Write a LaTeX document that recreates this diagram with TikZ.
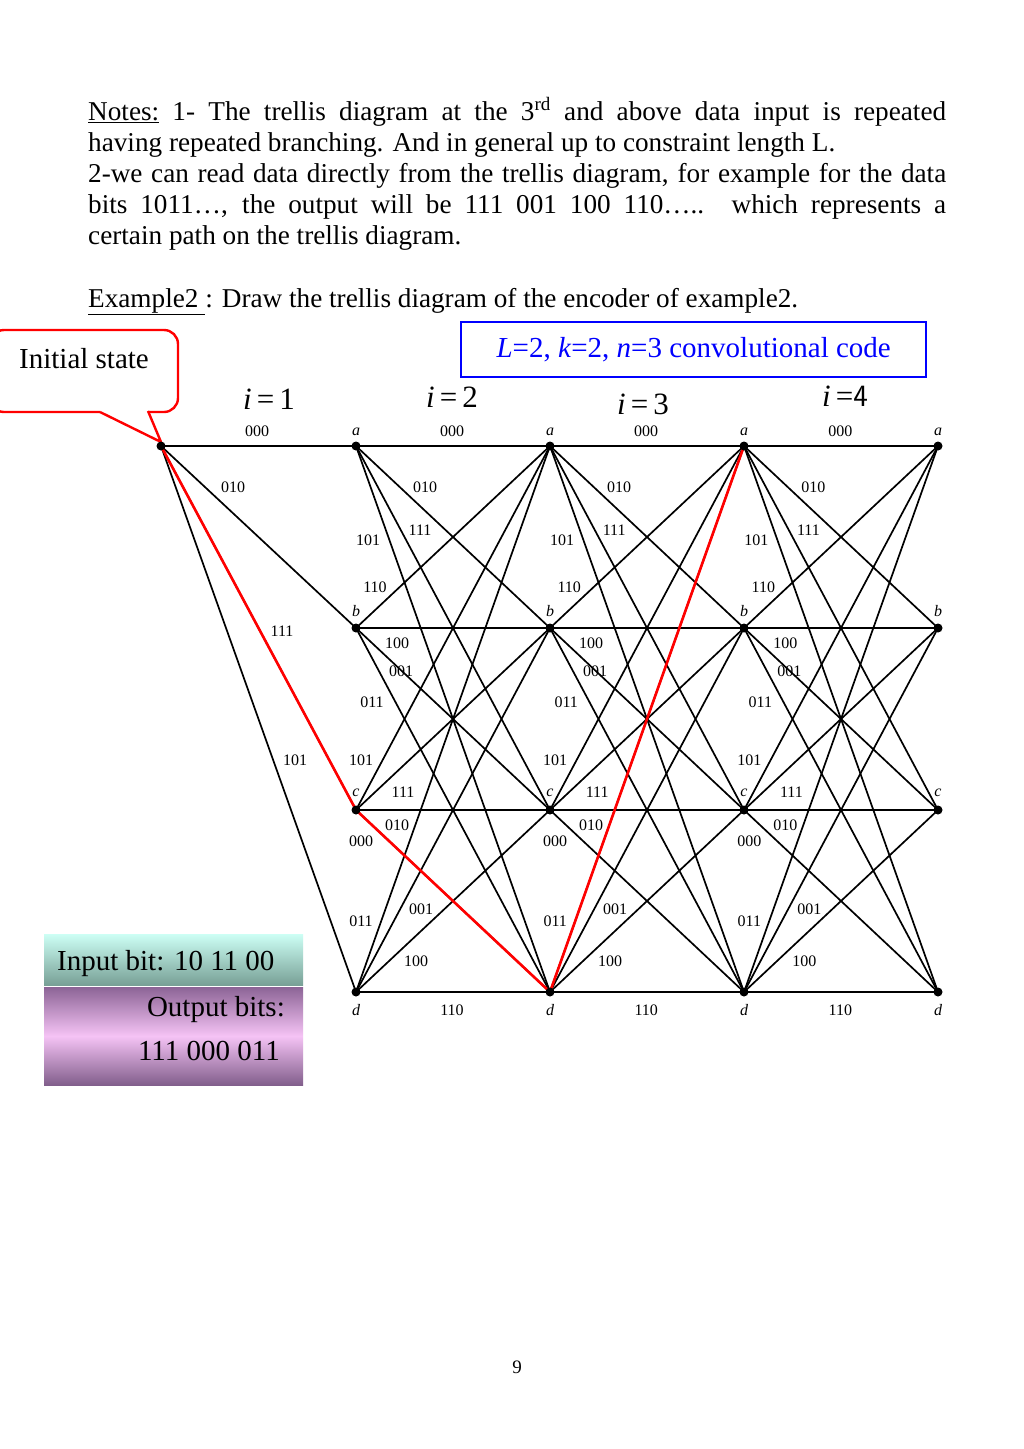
\documentclass[tikz,border=0pt]{standalone}
\usepackage{fontspec}
\setmainfont{Liberation Serif}
\begin{document}
\begin{tikzpicture}[x=1pt,y=-1pt,
  txt/.style={anchor=base west,inner sep=0pt,font=\fontsize{27.2}{31}\selectfont},
  lbl/.style={inner sep=0pt,font=\fontsize{16}{16}\selectfont},
  st/.style={inner sep=0pt,font=\fontsize{16}{16}\selectfont\itshape},
  il/.style={inner sep=0pt,font=\fontsize{31}{31}\selectfont},
  edge/.style={line width=1.7pt},
  redp/.style={draw=red,line width=2.6pt}]
\useasboundingbox (0,0) rectangle (1024,1449);
\fill[white] (0,0) rectangle (1024,1449);
% top text
\node[txt] (t1) at (88,120) {\makebox[858pt][s]{\underline{Notes:} 1- The trellis diagram at the 3\textsuperscript{rd} and above data input is repeated}};
\node[txt] (t2) at (88,151) {having repeated branching. And in general up to constraint length L.};
\node[txt] (t3) at (88,182) {\makebox[858pt][s]{2-we can read data directly from the trellis diagram, for example for the data}};
\node[txt] (t4) at (88,213) {\makebox[858pt][s]{bits 1011…, the output will be 111 001 100 110….. which represents a}};
\node[txt] (t5) at (88,244) {certain path on the trellis diagram.};
\node[txt] (t6) at (88,307) {\underline{Example2 }: Draw the trellis diagram of the encoder of example2.};
% blue box
\node[draw=blue,line width=2.4pt,minimum width=465pt,minimum height=55pt,anchor=north west,inner sep=0pt,text=blue,font=\fontsize{29}{29}\selectfont] (code) at (460,321) {\textit{L}=2, \textit{k}=2, \textit{n}=3 convolutional code};
% callout
\draw[red,line width=2.4pt,rounded corners=14pt] (100,412) -- (-10,412) -- (-10,330) -- (178,330) -- (178,412) -- (148,412);
\draw[red,line width=2.4pt,line join=round] (148,411) -- (161,442) -- (100,412);
\node[inner sep=0pt,font=\fontsize{29}{29}\selectfont] (init) at (84,359) {Initial state};
% states
\foreach \c/\x in {0/161,1/356,2/550,3/744,4/938}{
  \foreach \r/\y in {a/446,b/628,c/810,d/992}{
    \coordinate (s\c\r) at (\x,\y);
  }}
\draw[edge] (s0a) -- (s1a); \draw[edge] (s0a) -- (s1b);
\draw[edge] (s0a) -- (s1c); \draw[edge] (s0a) -- (s1d);
\foreach \c [evaluate=\c as \n using int(\c+1)] in {1,2,3}{
  \foreach \p in {a,b,c,d}{
    \foreach \q in {a,b,c,d}{
      \draw[edge] (s\c\p) -- (s\n\q);
    }}}
\draw[redp,line join=round] (s0a) -- (s1c) -- (s2d) -- (s3a);
\foreach \c in {0,1,2,3,4}{\fill (s\c a) circle (4.5pt);}
\foreach \c in {1,2,3,4}{\foreach \r in {b,c,d}{\fill (s\c\r) circle (4.5pt);}}
% column headers
\node[il] (i1) at (269,399) {\textit{i}\,=\,1};
\node[il] (i2) at (452,397) {\textit{i}\,=\,2};
\node[il] (i3) at (643,404) {\textit{i}\,=\,3};
\node[il] (i4) at (845,396) {\textit{i}\,=\textsf{4}};
% first block labels
\node[lbl] (l000) at (257,431) {000};
\node[lbl] (l010) at (233,487) {010};
\node[lbl] (l111) at (282,631) {111};
\node[lbl] (l101) at (295,760) {101};
% state letters
\foreach \x in {356,550,744,938}{
  \node[st] at (\x,432) {a};
  \node[st] at (\x,1010) {d};}
\foreach \x in {356,550,744}{
  \node[st] at (\x,611) {b};
  \node[st] at (\x,793) {c};}
\node[st] at (938,611) {b};
\node[st] at (938,793) {c};
% repeated block labels
\foreach \k in {0,1,2}{
  \begin{scope}[xshift=\k*194.2]
  \node[lbl] at (452,431) {000};
  \node[lbl] at (425,487) {010};
  \node[lbl] at (420,530) {111};
  \node[lbl] at (368,540) {101};
  \node[lbl] at (375,587) {110};
  \node[lbl] at (397,643) {100};
  \node[lbl] at (401,671) {001};
  \node[lbl] at (372,702) {011};
  \node[lbl] at (361,760) {101};
  \node[lbl] at (403,792) {111};
  \node[lbl] at (397,825) {010};
  \node[lbl] at (361,841) {000};
  \node[lbl] at (361,921) {011};
  \node[lbl] at (421,909) {001};
  \node[lbl] at (416,961) {100};
  \node[lbl] at (452,1010) {110};
  \end{scope}}
% info boxes
\shade[top color={rgb,255:red,205;green,255;blue,245},bottom color={rgb,255:red,120;green,160;blue,150}] (44,934) rectangle (303,985);
\shade[top color={rgb,255:red,140;green,100;blue,150},bottom color={rgb,255:red,130;green,95;blue,140},middle color={rgb,255:red,245;green,195;blue,245}] (44,987) rectangle (303,1085);
\node[inner sep=0pt,anchor=base west,font=\fontsize{29}{29}\selectfont] (inb) at (57,970) {Input bit: 10 11 00};
\node[inner sep=0pt,anchor=base east,font=\fontsize{29}{29}\selectfont] (outb) at (285,1016) {Output bits:};
\node[inner sep=0pt,anchor=base east,font=\fontsize{29}{29}\selectfont] (outv) at (280,1060) {111 000 011};
\node[inner sep=0pt,font=\fontsize{19}{19}\selectfont] (pg) at (517,1367) {9};
\end{tikzpicture}
\end{document}
